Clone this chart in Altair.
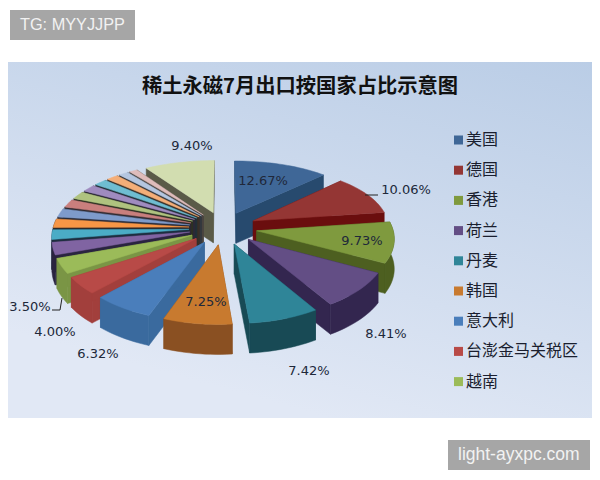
import math
import altair as alt
import pandas as pd

# ---- data ----
shares = [12.67, 10.06, 9.73, 8.41, 7.42, 7.25, 6.32, 4.00, 3.50,
          2.9, 2.3, 2.1, 2.1, 2.0, 1.9, 1.8, 1.7, 1.6, 1.3, 1.1, 9.40]
tops = ["#3F6797", "#943634", "#7F9A3E", "#634E85", "#2F8598", "#C87A2F", "#4A7EBB", "#B84A47", "#9BBB59",
        "#8064A2", "#4BACC6", "#F79646", "#7E9BCB", "#C97F7D", "#AFC27F", "#9F8BBF", "#6FBDD1", "#F4AE78",
        "#B4C6E0", "#DFBCBB", "#D2DDB0"]
walls = ["#274A6E", "#6A0E0E", "#4D5F20", "#33264F", "#184A55", "#8A5022", "#3A6A9E", "#A23F3C", "#7A9545",
         "#2A2440", "#1D2E40", "#2E2A2A", "#2A2C3A", "#302A30", "#2E3222", "#2C2838", "#223038", "#3A3028",
         "#34383F", "#4A4440", "#5A5A48"]
legend_names = ["美国", "德国", "香港", "荷兰", "丹麦", "韩国", "意大利", "台澎金马关税区", "越南"]
legend_colors = ["#3F6797", "#943634", "#7F9A3E", "#634E85", "#2F8598", "#C87A2F", "#4A7EBB", "#B84A47", "#9BBB59"]
label_text = ["12.67%", "10.06%", "9.73%", "8.41%", "7.42%", "7.25%", "6.32%", "4.00%", "3.50%", "9.40%"]
label_x = [263, 406, 362, 386, 309, 206, 98, 55, 30, 192]
label_y = [181, 190, 241, 334, 371, 302, 354, 332, 307, 146]
title = "稀土永磁7月出口按国家占比示意图"

# ---- pie geometry ----
CX, CY, RX, EXPL, THICK = 223, 228, 136, 0.25, 30


def project(u, v, drop=0):
    return (CX + RX * u * (1 + 0.1 * v), CY + v * (65.8 + 9.2 * v) + drop)


rows = []
pid = 0


def add_poly(pts, color):
    global pid
    for i, (x, y) in enumerate(pts + pts[:1]):
        rows.append({"x": x, "y": y, "i": i, "pid": pid, "c": color})
    pid += 1


total = sum(shares)
spans = []
cum = 0.0
for k, s in enumerate(shares):
    spans.append((cum / total * 2 * math.pi, (cum + s) / total * 2 * math.pi, k))
    cum += s

spans = sorted(spans, key=lambda t: -math.cos((t[0] + t[1]) / 2))
for a0, a1, k in spans:
    b = (a0 + a1) / 2
    ou, ov = EXPL * math.sin(b), -EXPL * math.cos(b)
    n = max(3, int((a1 - a0) * 30))
    arc = [a0 + (a1 - a0) * j / n for j in range(n + 1)]
    apex = project(ou, ov)
    rim = [project(ou + math.sin(a), ov - math.cos(a)) for a in arc]
    down = lambda p: (p[0], p[1] + THICK)
    # radial walls
    add_poly([apex, rim[0], down(rim[0]), down(apex)], walls[k])
    add_poly([apex, rim[-1], down(rim[-1]), down(apex)], walls[k])
    # outer wall, front part only
    front = [p for a, p in zip(arc, rim) if math.cos(a) < 0.15]
    if len(front) > 1:
        add_poly(front + [down(p) for p in reversed(front)], walls[k])
    # top
    add_poly([apex] + rim, tops[k])

pie_df = pd.DataFrame(rows)

XS = alt.Scale(domain=[8, 592])
X = alt.X("x:Q", scale=XS, axis=None)
Y = alt.Y("y:Q", scale=alt.Scale(domain=[8, 472], reverse=True), axis=None)
X2 = alt.X2("x2:Q")
Y2 = alt.Y2("y2:Q")

panel = alt.Chart(pd.DataFrame([{"x": 8, "x2": 592, "y": 62, "y2": 418}])).mark_rect(
    fill=alt.LinearGradient(
        gradient="linear", x1=1, y1=0, x2=0.55, y2=1,
        stops=[alt.GradientStop(color="#BACDE6", offset=0),
               alt.GradientStop(color="#E1E8F5", offset=1)])
).encode(x=X, x2=X2, y=Y, y2=Y2)

boxes = alt.Chart(pd.DataFrame([
    {"x": 10, "x2": 135, "y": 10, "y2": 40},
    {"x": 448, "x2": 590, "y": 440, "y2": 470}])).mark_rect(color="#A6A6A6").encode(x=X, x2=X2, y=Y, y2=Y2)

box_text = alt.Chart(pd.DataFrame([
    {"x": 20, "y": 25, "t": "TG: MYYJJPP", "s": 16.3},
    {"x": 458, "y": 455, "t": "light-ayxpc.com", "s": 17.5}])).mark_text(
    align="left", baseline="middle", font="Liberation Sans", color="#F2F2F2"
).encode(x=X, y=Y, text="t:N", size=alt.Size("s:Q", scale=None, legend=None))

pie = alt.Chart(pie_df).mark_line(strokeWidth=0.5, interpolate="linear").encode(
    x=X, y=Y, order="i:Q", detail="pid:N",
    fill=alt.Fill("c:N", scale=None), stroke=alt.Stroke("c:N", scale=None))

title_mark = alt.Chart(pd.DataFrame([{"x": 300, "y": 87, "t": title}])).mark_text(
    font="Noto Sans CJK SC", fontWeight="bold", fontSize=20.3, color="#111111"
).encode(x=X, y=Y, text="t:N")

labels = alt.Chart(pd.DataFrame({"x": label_x, "y": label_y, "t": label_text})).mark_text(
    font="DejaVu Sans", fontSize=13, color="#20283A"
).encode(x=X, y=Y, text="t:N")

leaders = alt.Chart(pd.DataFrame([
    {"x": 365, "y": 195, "g": 0, "i": 0}, {"x": 378, "y": 195, "g": 0, "i": 1},
    {"x": 52, "y": 310, "g": 1, "i": 0}, {"x": 60, "y": 310, "g": 1, "i": 1}, {"x": 62, "y": 298, "g": 1, "i": 2},
])).mark_line(color="#222222", strokeWidth=1).encode(x=X, y=Y, detail="g:N", order="i:Q")

leg_df = pd.DataFrame({"name": legend_names, "c": legend_colors,
                       "y": [140 + 30.2 * i for i in range(len(legend_names))]})
leg_df["xs"] = 458.5
leg_df["xt"] = 466
swatches = alt.Chart(leg_df).mark_square(size=81, opacity=1).encode(
    x=alt.X("xs:Q", scale=XS, axis=None), y=Y,
    fill=alt.Fill("c:N", scale=None), stroke=alt.value(None))
leg_text = alt.Chart(leg_df).mark_text(
    align="left", font="Noto Sans CJK SC", fontSize=16, color="#1A1E2E"
).encode(x=alt.X("xt:Q", scale=XS, axis=None), y=Y, text="name:N")

chart = alt.layer(panel, boxes, box_text, pie, title_mark, labels, leaders, swatches, leg_text).properties(
    width=584, height=464, padding=0, autosize=alt.AutoSizeParams(type="none")
).configure_view(stroke=None).resolve_scale(fill="independent", stroke="independent")

chart.save("out.html", embed_options={"renderer": "svg", "actions": False})
